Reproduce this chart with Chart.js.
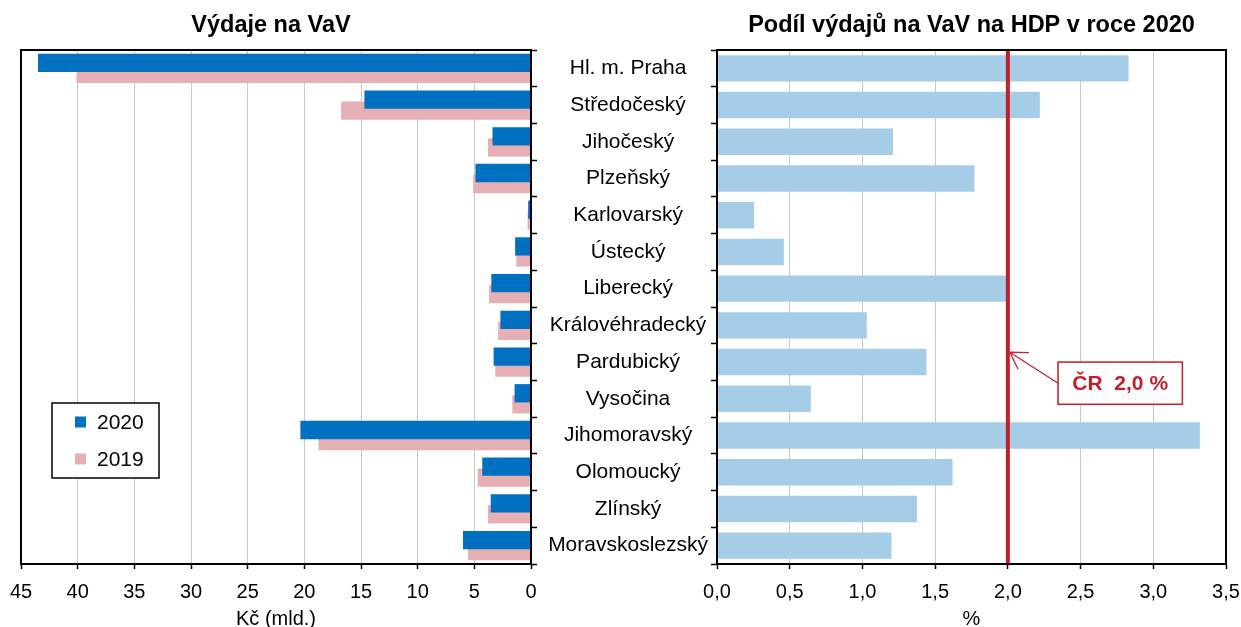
<!DOCTYPE html>
<html lang="cs">
<head>
<meta charset="utf-8">
<script src="https://cdn.jsdelivr.net/npm/chart.js@4.4.1/dist/chart.umd.min.js"></script>
<style>
	html, body { margin: 0; padding: 0; background: #fff; overflow: hidden; }
	#left { position: absolute; left: 0; top: 0; width: 545px; height: 640px; }
	#right { position: absolute; left: 545px; top: 0; width: 696px; height: 640px; }
</style>
</head>
<body>
<div id="left"><canvas id="leftChart"></canvas></div>
<div id="right"><canvas id="rightChart"></canvas></div>
<script>
const regions = [
	'Hl. m. Praha', 'Středočeský', 'Jihočeský', 'Plzeňský', 'Karlovarský',
	'Ústecký', 'Liberecký', 'Královéhradecký', 'Pardubický', 'Vysočina',
	'Jihomoravský', 'Olomoucký', 'Zlínský', 'Moravskoslezský',
]
// výdaje na VaV, mld. Kč
const spend2020 = [43.5, 14.7, 3.4, 4.9, 0.25, 1.4, 3.5, 2.7, 3.3, 1.45, 20.35, 4.3, 3.55, 6.0]
const spend2019 = [40.1, 16.75, 3.8, 5.1, 0.3, 1.3, 3.7, 2.9, 3.15, 1.65, 18.75, 4.7, 3.8, 5.55]
// podíl na HDP 2020, %
const gdpShare2020 = [2.83, 2.22, 1.21, 1.77, 0.255, 0.46, 1.99, 1.03, 1.44, 0.645, 3.32, 1.62, 1.375, 1.2]
const crShare = 2.0

const leftTicks = [0, 5, 10, 15, 20, 25, 30, 35, 40, 45]
const rightTicks = ['0,0', '0,5', '1,0', '1,5', '2,0', '2,5', '3,0', '3,5']

const FONT = "'Liberation Sans', Arial, sans-serif"
const RED = '#C41E2A'
Chart.defaults.font.family = FONT
Chart.defaults.color = '#000'
Chart.defaults.animation = false

// rámeček a nadpis nad plochou grafu
const panel = {
	id: 'panel',
	afterDraw(chart, args, opts) {
		const { ctx, chartArea: a } = chart
		ctx.save()
		ctx.strokeStyle = '#000'
		ctx.lineWidth = 2
		ctx.strokeRect(a.left, a.top, a.right - a.left, a.bottom - a.top)
		ctx.font = 'bold 23.5px ' + FONT
		ctx.fillStyle = '#000'
		ctx.textAlign = 'center'
		ctx.textBaseline = 'middle'
		ctx.fillText(opts.title, (a.left + a.right) / 2 + (opts.shift || 0), 26)
		ctx.restore()
	},
}

const boxLegend = {
	id: 'boxLegend',
	afterDraw(chart) {
		const { ctx, chartArea: a } = chart
		const x = a.left + 31, y = 403, w = 107, h = 75
		ctx.save()
		ctx.fillStyle = '#fff'
		ctx.fillRect(x, y, w, h)
		ctx.strokeStyle = '#000'
		ctx.lineWidth = 1.5
		ctx.strokeRect(x, y, w, h)
		ctx.font = '21px ' + FONT
		ctx.textBaseline = 'middle'
		chart.data.datasets.forEach((ds, i) => {
			const cy = y + 19 + i * 37
			ctx.fillStyle = ds.backgroundColor
			ctx.fillRect(x + 23, cy - 5.5, 11, 11)
			ctx.fillStyle = '#000'
			ctx.fillText(ds.label, x + 45, cy + 1)
		})
		ctx.restore()
	},
}

const crMarker = {
	id: 'crMarker',
	afterDatasetsDraw(chart) {
		const { ctx, chartArea: a, scales: { x, y } } = chart
		const lx = x.getPixelForValue(crShare)
		ctx.save()
		ctx.strokeStyle = RED
		ctx.lineWidth = 4
		ctx.beginPath()
		ctx.moveTo(lx, a.top)
		ctx.lineTo(lx, a.bottom)
		ctx.stroke()

		// popisek
		const bx0 = x.getPixelForValue(2.345), bx1 = x.getPixelForValue(3.2)
		const by0 = y.getPixelForValue(8.0), by1 = y.getPixelForValue(9.15)
		const tipX = lx + 2, tipY = y.getPixelForValue(7.73)
		const tailX = bx0, tailY = (by0 + by1) / 2
		ctx.lineWidth = 1.2
		ctx.beginPath()
		ctx.moveTo(tailX, tailY)
		ctx.lineTo(tipX, tipY)
		const ang = Math.atan2(tailY - tipY, tailX - tipX)
		for (const d of [-0.55, 0.55]) {
			ctx.moveTo(tipX, tipY)
			ctx.lineTo(tipX + 19 * Math.cos(ang + d), tipY + 19 * Math.sin(ang + d))
		}
		ctx.stroke()
		ctx.fillStyle = '#fff'
		ctx.fillRect(bx0, by0, bx1 - bx0, by1 - by0)
		ctx.lineWidth = 1.5
		ctx.strokeRect(bx0, by0, bx1 - bx0, by1 - by0)
		ctx.fillStyle = RED
		ctx.font = 'bold 21px ' + FONT
		ctx.textAlign = 'center'
		ctx.textBaseline = 'middle'
		ctx.fillText('ČR  ' + crShare.toFixed(1).replace('.', ',') + ' %', (bx0 + bx1) / 2, (by0 + by1) / 2 + 1)
		ctx.restore()
	},
}

const xGrid = { color: '#C8C8C8', lineWidth: 1, tickColor: '#000', tickLength: 5, tickWidth: 1.5 }
// okraje plochy řídí jen layout.padding
const noOverhang = (s) => { s.paddingLeft = 0; s.paddingRight = 0 }

new Chart(document.getElementById('leftChart'), {
	type: 'bar',
	data: {
		labels: regions,
		datasets: [
			{ label: '2020', data: spend2020, backgroundColor: '#0070C0' },
			{ label: '2019', data: spend2019, backgroundColor: '#E6AFB3' },
		],
	},
	options: {
		indexAxis: 'y',
		responsive: true,
		maintainAspectRatio: false,
		categoryPercentage: 0.6,
		barPercentage: 1.66,
		layout: { padding: { top: 50, left: 21, right: 0, bottom: 0 } },
		plugins: {
			legend: { display: false },
			tooltip: { enabled: false },
			panel: { title: 'Výdaje na VaV', shift: -5 },
		},
		scales: {
			x: {
				reverse: true,
				min: 0,
				max: 45,
				afterBuildTicks: (s) => { s.ticks = leftTicks.map((v) => ({ value: v })) },
				afterFit: noOverhang,
				grid: xGrid,
				border: { color: '#000', width: 2 },
				ticks: { font: { size: 20 }, padding: 11, maxRotation: 0 },
				title: { display: true, text: 'Kč (mld.)', font: { size: 20 }, padding: { top: -8, bottom: 9 } },
			},
			y: {
				position: 'right',
				afterFit: (s) => { s.width = 14 },
				grid: { drawOnChartArea: false, tickLength: 6, tickColor: '#000', tickWidth: 1.5 },
				border: { color: '#000', width: 2 },
				ticks: { display: false },
			},
		},
	},
	plugins: [panel, boxLegend],
})

new Chart(document.getElementById('rightChart'), {
	type: 'bar',
	data: {
		labels: regions,
		datasets: [
			{ label: 'Podíl na HDP 2020', data: gdpShare2020, backgroundColor: '#A6CDE7' },
		],
	},
	options: {
		indexAxis: 'y',
		responsive: true,
		maintainAspectRatio: false,
		categoryPercentage: 0.8,
		barPercentage: 0.9,
		layout: { padding: { top: 50, left: 0, right: 15, bottom: 0 } },
		plugins: {
			legend: { display: false },
			tooltip: { enabled: false },
			panel: { title: 'Podíl výdajů na VaV na HDP v roce 2020' },
		},
		scales: {
			x: {
				min: 0,
				max: 3.5,
				afterFit: noOverhang,
				ticks: {
					stepSize: 0.5,
					font: { size: 20 },
					padding: 11,
					maxRotation: 0,
					callback: (v, i) => rightTicks[i],
				},
				grid: xGrid,
				border: { color: '#000', width: 2 },
				title: { display: true, text: '%', font: { size: 20 }, padding: { top: -8, bottom: 9 } },
			},
			y: {
				afterFit: (s) => { s.width = 172 },
				grid: { drawOnChartArea: false, tickLength: 6, tickColor: '#000', tickWidth: 1.5 },
				border: { color: '#000', width: 2 },
				ticks: { font: { size: 21 }, crossAlign: 'center', padding: 3 },
			},
		},
	},
	plugins: [panel, crMarker],
})
</script>
</body>
</html>
